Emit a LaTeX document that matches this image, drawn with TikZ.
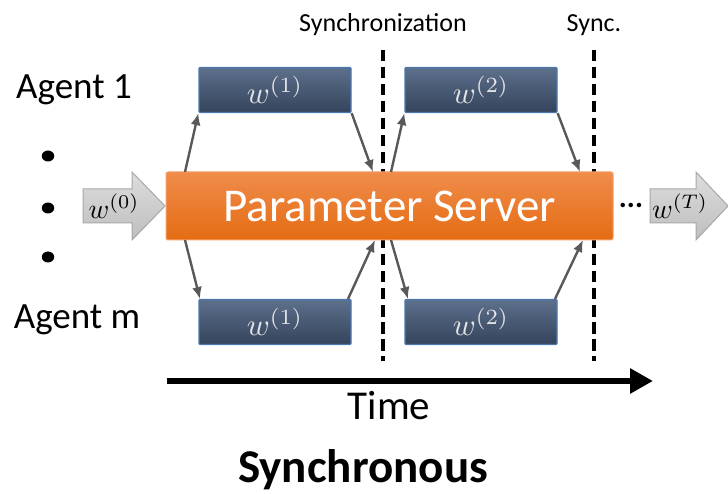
\documentclass[tikz,border=0pt]{standalone}
\usepackage{fontspec}
\setmainfont{Carlito}
\usetikzlibrary{arrows.meta,shapes.geometric}
\definecolor{boxtop}{HTML}{5C6F8C}
\definecolor{boxbot}{HTML}{35445C}
\definecolor{boxborder}{HTML}{4A78AE}
\definecolor{pstop}{HTML}{F08C4C}
\definecolor{psbot}{HTML}{E46C12}
\definecolor{psborder}{HTML}{F5A068}
\definecolor{conngray}{HTML}{595959}
\definecolor{gtop}{HTML}{DDDDDD}
\definecolor{gbot}{HTML}{BEBEBE}
\definecolor{gborder}{HTML}{A8A8A8}
\newcommand{\wlab}[2]{\scalebox{#1}{$w^{(#2)}$}}
\tikzset{
  wbox/.style={draw=boxborder, line width=1.3pt, top color=boxtop, bottom color=boxbot,
    rounded corners=1pt, minimum width=152pt, minimum height=45pt, inner sep=0pt,
    text=white!90!black},
  conn/.style={draw=conngray, line width=2.4pt, -{Latex[length=12pt,width=10pt]}},
  syncline/.style={draw=black, line width=4pt, dash pattern=on 11.5pt off 5.5pt},
  garrow/.style={draw=gborder, line width=1pt, top color=gtop, bottom color=gbot},
  lbl/.style={inner sep=0pt, font=\fontsize{26}{30}\selectfont},
  agent/.style={inner sep=0pt, font=\fontsize{37}{40}\selectfont},
  dotmark/.style={ellipse, fill=black, minimum width=12.5pt, minimum height=11pt, inner sep=0pt},
}
\begin{document}
\begin{tikzpicture}[x=1pt,y=-1pt]
\useasboundingbox (0,0) rectangle (728,494);

% sync lines
\coordinate (s1t) at (383,50); \coordinate (s1b) at (383,361);
\coordinate (s2t) at (594,50); \coordinate (s2b) at (594,361);
\draw[syncline] (s1t) -- (s1b);
\draw[syncline] (s2t) -- (s2b);
\node[lbl] (synclbl) at (383,25) {Synchronization};
\node[lbl] (synclbl2) at (594,25) {Sync.};

% parameter server
\node[draw=psborder, line width=1pt, top color=pstop, bottom color=psbot, rounded corners=2pt,
  minimum width=447pt, minimum height=68pt, inner sep=0pt, text=white,
  font=\fontsize{47}{50}\selectfont] (ps) at (389.5,206) {Parameter Server};

% worker boxes
\node[wbox] (a1) at (275,90) {\wlab{3.1}{1}};
\node[wbox] (a2) at (481,90) {\wlab{3.1}{2}};
\node[wbox] (m1) at (275,322) {\wlab{3.1}{1}};
\node[wbox] (m2) at (481,322) {\wlab{3.1}{2}};

% coordinates on server edges
\coordinate (pt1) at (185,172);
\coordinate (pt2) at (373,172);
\coordinate (pt3) at (391,172);
\coordinate (pt4) at (580,172);
\coordinate (pb1) at (185,240);
\coordinate (pb2) at (375,240);
\coordinate (pb3) at (391,240);
\coordinate (pb4) at (583,240);
\coordinate (m1l) at (200,299);
\coordinate (m1r) at (348,299);
\coordinate (m2l) at (408,299);
\coordinate (m2r) at (555,299);

\draw[conn] (pt1) -- (a1.south west);
\draw[conn] (a1.south east) -- (pt2);
\draw[conn] (pt3) -- (a2.south west);
\draw[conn] (a2.south east) -- (pt4);
\draw[conn] (pb1) -- (m1l);
\draw[conn] (m1r) -- (pb2);
\draw[conn] (pb3) -- (m2l);
\draw[conn] (m2r) -- (pb4);

% input / output arrows
\path[garrow] (83,189) -- (132,189) -- (132,172) -- (165,206) -- (132,240) -- (132,223) -- (83,223) -- cycle;
\node[inner sep=0pt] (w0) at (114,206) {\wlab{2.8}{0}};
\path[garrow] (650,189) -- (696,189) -- (696,172) -- (728,206) -- (696,240) -- (696,223) -- (650,223) -- cycle;
\node[inner sep=0pt] (wT) at (680,206) {\wlab{2.8}{T}};
\node[inner sep=0pt, font=\fontsize{30}{30}\selectfont] (dots) at (631,205) {\textbf{...}};

% agents
\node[agent] (ag1) at (74,90) {Agent 1};
\node[agent] (agm) at (77,320) {Agent m};
\node[dotmark] (d1) at (48,156) {};
\node[dotmark] (d2) at (48,208) {};
\node[dotmark] (d3) at (48,257) {};

% time arrow
\coordinate (t0) at (167,381);
\coordinate (t1) at (653,381);
\draw[line width=6pt, -{Triangle[length=23pt,width=24pt]}] (t0) -- (t1);
\node[inner sep=0pt, font=\fontsize{41}{44}\selectfont] (time) at (389,406) {Time};
\node[inner sep=0pt, font=\fontsize{47}{50}\selectfont\bfseries] (title) at (363,470) {Synchronous};
\end{tikzpicture}
\end{document}
